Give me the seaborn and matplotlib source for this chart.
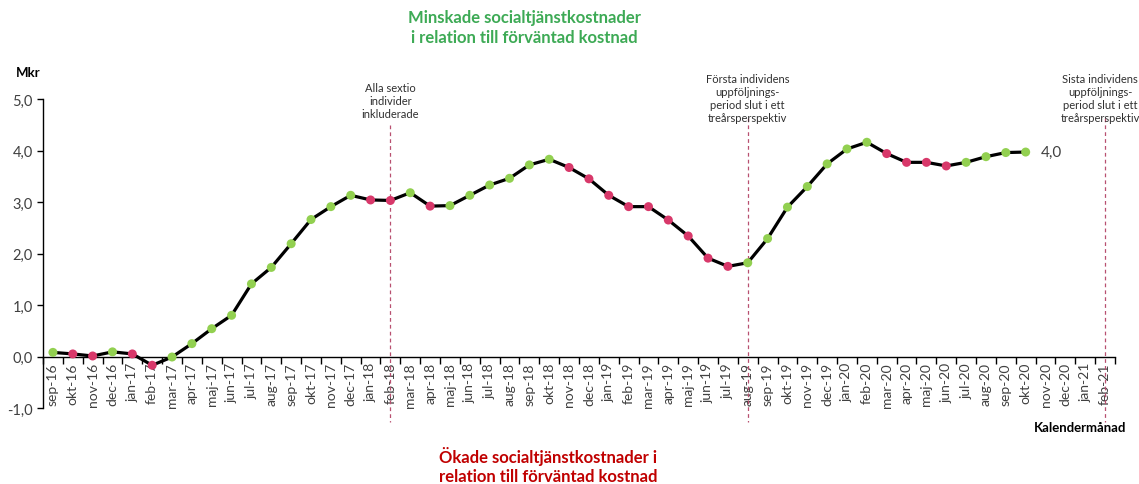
import matplotlib
matplotlib.use("Agg")
import matplotlib.pyplot as plt
import seaborn as sns
import pandas as pd
from matplotlib.ticker import FixedLocator, FuncFormatter

# ---- data ----
month_labels = [
    "sep-16", "okt-16", "nov-16", "dec-16",
    "jan-17", "feb-17", "mar-17", "apr-17", "maj-17", "jun-17", "jul-17", "aug-17", "sep-17", "okt-17", "nov-17", "dec-17",
    "jan-18", "feb-18", "mar-18", "apr-18", "maj-18", "jun-18", "jul-18", "aug-18", "sep-18", "okt-18", "nov-18", "dec-18",
    "jan-19", "feb-19", "mar-19", "apr-19", "maj-19", "jun-19", "jul-19", "aug-19", "sep-19", "okt-19", "nov-19", "dec-19",
    "jan-20", "feb-20", "mar-20", "apr-20", "maj-20", "jun-20", "jul-20", "aug-20", "sep-20", "okt-20", "nov-20", "dec-20",
    "jan-21", "feb-21",
]
values = [
    0.08, 0.05, 0.01, 0.09,
    0.05, -0.17, -0.01, 0.25, 0.54, 0.80, 1.41, 1.73, 2.19, 2.66, 2.91, 3.13,
    3.04, 3.03, 3.18, 2.92, 2.93, 3.13, 3.33, 3.46, 3.72, 3.83, 3.67, 3.45,
    3.13, 2.91, 2.91, 2.65, 2.34, 1.91, 1.75, 1.82, 2.29, 2.90, 3.30, 3.74,
    4.03, 4.16, 3.94, 3.77, 3.77, 3.70, 3.77, 3.88, 3.96, 3.97,
]
direction = [
    "ned", "upp", "upp", "ned",
    "upp", "upp", "ned", "ned", "ned", "ned", "ned", "ned", "ned", "ned", "ned", "ned",
    "upp", "upp", "ned", "upp", "ned", "ned", "ned", "ned", "ned", "ned", "upp", "upp",
    "upp", "upp", "upp", "upp", "upp", "upp", "upp", "ned", "ned", "ned", "ned", "ned",
    "ned", "ned", "upp", "upp", "upp", "upp", "ned", "ned", "ned", "ned",
]
event_months = ["feb-18", "aug-19", "feb-21"]
event_texts = [
    "Alla sextio\nindivider\ninkluderade",
    "Första individens\nuppföljnings-\nperiod slut i ett\ntreårsperspektiv",
    "Sista individens\nuppföljnings-\nperiod slut i ett\ntreårsperspektiv",
]
yticks = [-1.0, 0.0, 1.0, 2.0, 3.0, 4.0, 5.0]

# ---- styling ----
sns.set_style("white")
plt.rcParams["font.family"] = ["Lato", "DejaVu Sans"]
GREEN = "#92D050"
RED = "#D8386A"
TXT = "#404040"

df = pd.DataFrame({
    "pos": range(len(values)),
    "value": values,
    "direction": direction,
})

fig = plt.figure(figsize=(11.39, 4.85), dpi=100)
ax = fig.add_axes([43 / 1139, 1 - 409 / 485, (1115 - 43) / 1139, (409 - 100) / 485])

sns.lineplot(data=df, x="pos", y="value", color="black", linewidth=2.3, ax=ax, zorder=2)
sns.scatterplot(data=df, x="pos", y="value", hue="direction",
                palette={"ned": GREEN, "upp": RED}, s=42, linewidth=0,
                legend=False, ax=ax, zorder=3)

n = len(month_labels)
ax.set_xlim(-0.5, n - 0.5)
ax.set_ylim(-1.0, 5.0)

# x axis through y = 0
ax.spines["bottom"].set_position(("data", 0))
ax.spines["top"].set_visible(False)
ax.spines["right"].set_visible(False)
for s in ["bottom", "left"]:
    ax.spines[s].set_color("black")
    ax.spines[s].set_linewidth(1.0)

ax.set_xticks(range(n))
ax.set_xticklabels(month_labels, rotation=90, fontsize=10, color=TXT)
ax.xaxis.set_minor_locator(FixedLocator([i - 0.5 for i in range(n + 1)]))
ax.tick_params(axis="x", which="major", length=0, pad=4)
ax.tick_params(axis="x", which="minor", length=5, width=1, color="black", direction="out", bottom=True)

ax.set_yticks(yticks)
ax.yaxis.set_major_formatter(FuncFormatter(lambda v, p: f"{v:.1f}".replace(".", ",")))
ax.tick_params(axis="y", length=4, width=1, color="black", direction="out", labelsize=10.5, labelcolor=TXT, left=True)
ax.set_xlabel("")
ax.set_ylabel("")

# event lines and annotations
line_tops = [4.50, 4.64, 4.64]
text_bottoms = [4.62, 4.54, 4.54]
text_shift = [0.0, 0.0, -0.25]
for m, t, lt, tb, sh in zip(event_months, event_texts, line_tops, text_bottoms, text_shift):
    xi = month_labels.index(m)
    ax.plot([xi, xi], [lt, -1.28], color="#B85070", lw=0.9, ls=(0, (3, 2.5)),
            clip_on=False, zorder=1)
    ax.text(xi + sh, tb, t, ha="center", va="bottom", fontsize=8, color="#303030",
            linespacing=1.2)

# end value label
last = len(values) - 1
ax.text(last + 0.75, values[last], f"{values[last]:.1f}".replace(".", ","),
        ha="left", va="center", fontsize=11, color=TXT)

# titles & axis labels
fig.text(524 / 1139, 1 - 28 / 485, "Minskade socialtjänstkostnader\ni relation till förväntad kostnad",
         ha="center", va="center", fontsize=12, fontweight="bold", color="#3DAA55", linespacing=1.3)
fig.text(548 / 1139, 1 - 466 / 485, "Ökade socialtjänstkostnader i\nrelation till förväntad kostnad",
         ha="center", va="center", fontsize=12, fontweight="bold", color="#C00000", linespacing=1.3)
fig.text(16 / 1139, 1 - 73 / 485, "Mkr", ha="left", va="center", fontsize=9.5, fontweight="bold", color="black")
fig.text(1126 / 1139, 1 - 428 / 485, "Kalendermånad", ha="right", va="center", fontsize=9.5,
         fontweight="bold", color="black")

fig.savefig("out.png", dpi=100, facecolor="white")
